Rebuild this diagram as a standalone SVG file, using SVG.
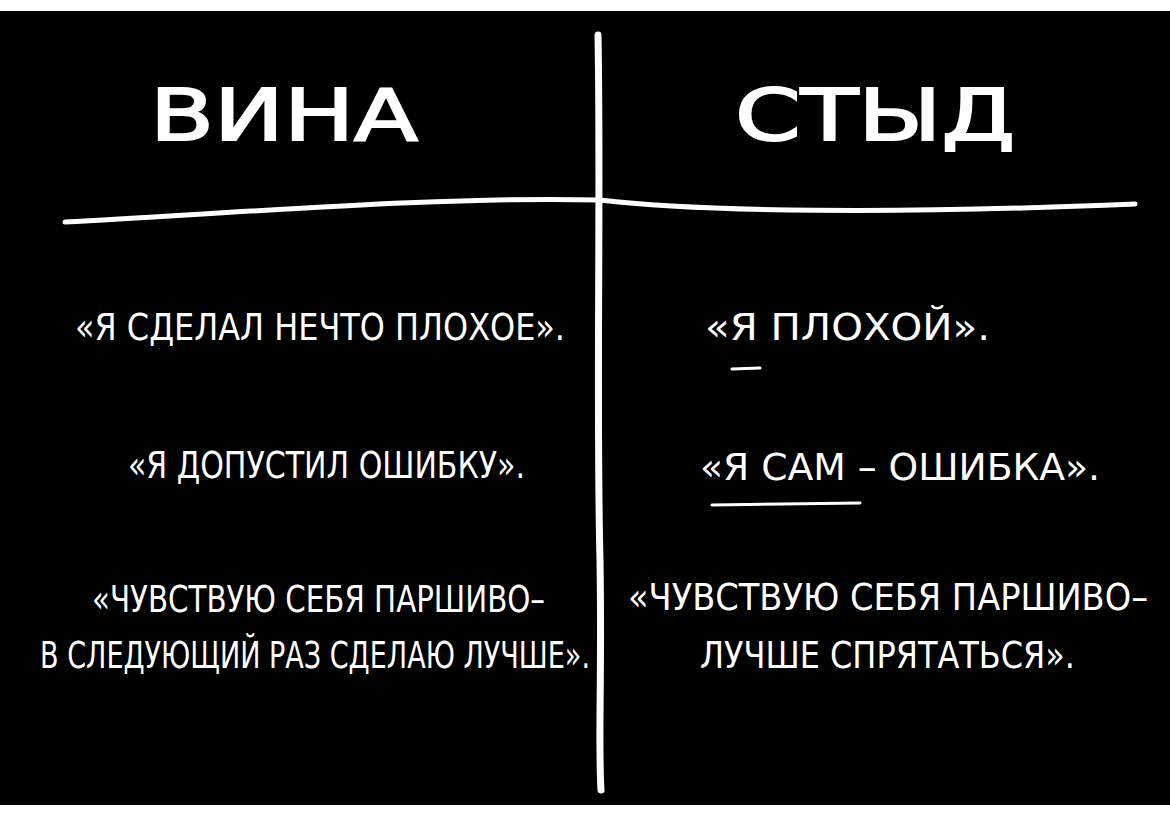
<svg xmlns="http://www.w3.org/2000/svg" width="1170" height="817" viewBox="0 0 1170 817">
<style>
.t{fill:#fff;font-family:"DejaVu Sans Condensed","DejaVu Sans",sans-serif;font-size:37px;}
.h{fill:#fff;font-family:"DejaVu Sans","Noto Sans",sans-serif;font-size:72px;stroke:#fff;stroke-width:2;}
.ln{stroke:#fff;fill:none;stroke-linecap:round;}
</style>
<rect x="0" y="0" width="1170" height="817" fill="#fff"/>
<rect x="0" y="11" width="1170" height="794" fill="#000"/>
<g id="connectors">
<path class="ln" stroke-width="7" d="M598 35 C601 200 596 400 600 560 C602 680 598 740 601 790"/>
<path class="ln" stroke-width="5" d="M65 222 C250 212 450 196 600 200 C700 212 900 214 1135 204"/>
<path class="ln" stroke-width="3" d="M732 369 L760 368"/>
<path class="ln" stroke-width="3" d="M712 505 L860 503"/>
</g>
<g id="vina"><text class="h" x="150" y="140" textLength="268" lengthAdjust="spacingAndGlyphs">ВИНА</text></g>
<g id="styd"><text class="h" x="735" y="140" textLength="280" lengthAdjust="spacingAndGlyphs">СТЫД</text></g>
<g id="l1"><text class="t" x="75" y="340" textLength="490" lengthAdjust="spacingAndGlyphs">«Я СДЕЛАЛ НЕЧТО ПЛОХОЕ».</text></g>
<g id="l2"><text class="t" x="128" y="478" textLength="397" lengthAdjust="spacingAndGlyphs">«Я ДОПУСТИЛ ОШИБКУ».</text></g>
<g id="l3"><text class="t" x="92" y="612" textLength="453" lengthAdjust="spacingAndGlyphs">«ЧУВСТВУЮ СЕБЯ ПАРШИВО–</text>
<text class="t" x="40" y="668" textLength="550" lengthAdjust="spacingAndGlyphs">В СЛЕДУЮЩИЙ РАЗ СДЕЛАЮ ЛУЧШЕ».</text></g>
<g id="r1"><text class="t" x="705" y="340" textLength="285" lengthAdjust="spacingAndGlyphs">«Я ПЛОХОЙ».</text></g>
<g id="r2"><text class="t" x="700" y="480" textLength="400" lengthAdjust="spacingAndGlyphs">«Я САМ – ОШИБКА».</text></g>
<g id="r3"><text class="t" x="628" y="610" textLength="520" lengthAdjust="spacingAndGlyphs">«ЧУВСТВУЮ СЕБЯ ПАРШИВО–</text>
<text class="t" x="700" y="668" textLength="375" lengthAdjust="spacingAndGlyphs">ЛУЧШЕ СПРЯТАТЬСЯ».</text></g>
</svg>
